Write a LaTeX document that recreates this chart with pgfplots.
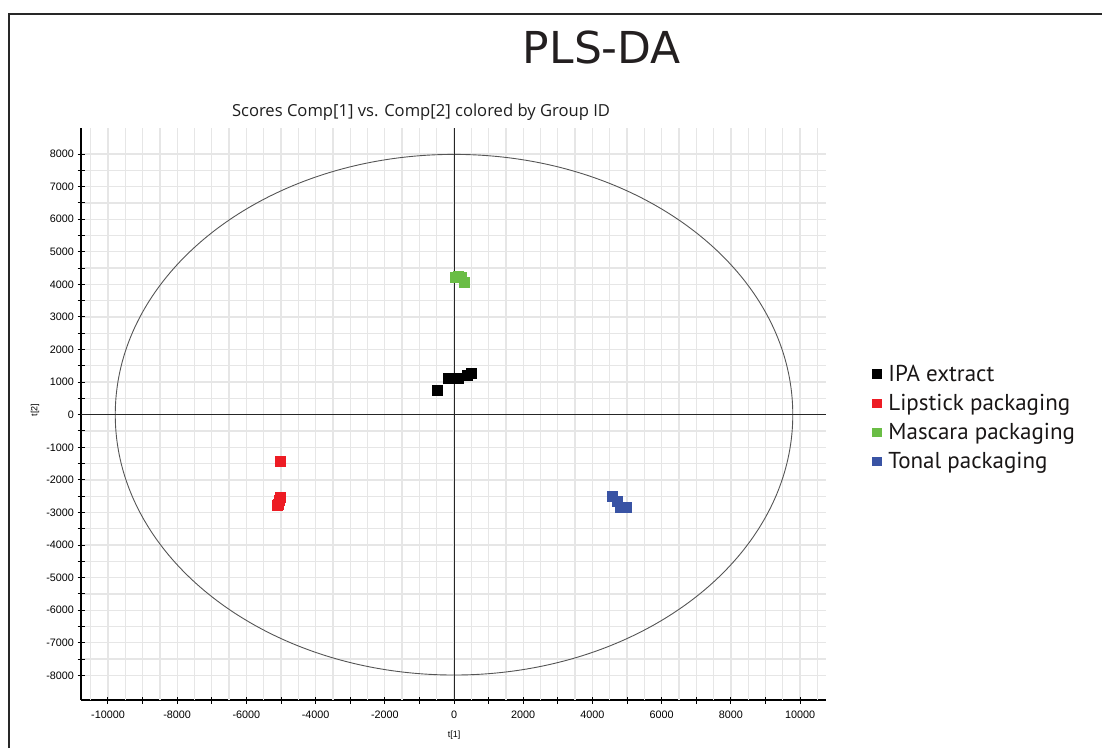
\documentclass[border=0pt]{standalone}
\usepackage{pgfplots}
\pgfplotsset{compat=1.18}
\usepackage{fontspec}
\setmainfont{Liberation Sans}
\newfontfamily\titlefont{DejaVu Sans}
\newfontfamily\subfont{Open Sans}
\newfontfamily\legfont{PT Sans}
\definecolor{cred}{RGB}{237,28,36}
\definecolor{cgreen}{RGB}{106,189,69}
\definecolor{cblue}{RGB}{57,83,164}
\definecolor{gridc}{RGB}{230,230,230}
\definecolor{ellc}{RGB}{85,85,85}
\begin{document}
\begin{tikzpicture}[x=1pt,y=1pt]
\useasboundingbox (0,0) rectangle (1102,748);
\draw[line width=1.3pt, color={rgb,255:red,40;green,40;blue,40}] (9,0) -- (9,734) -- (1102,734);
\node[font={\titlefont\fontsize{44}{50}\selectfont}, text={rgb,255:red,35;green,31;blue,32}] at (602,701) {PLS-DA};
\node[font={\subfont\fontsize{16.6}{19}\selectfont}, text={rgb,255:red,30;green,30;blue,30}] at (421,636) {Scores Comp[1] vs. Comp[2] colored by Group ID};
\node[font=\fontsize{9}{10}\selectfont] at (454,13) {t[1]};
\node[font=\fontsize{9}{10}\selectfont, rotate=90] at (35,338) {t[2]};
\begin{axis}[
  at={(81pt,48pt)}, anchor=south west,
  scale only axis, width=745pt, height=572pt,
  xmin=-10780, xmax=10750, ymin=-8757, ymax=8800,
  scaled ticks=false,
  axis x line*=bottom, axis y line*=left,
  axis line style={black, line width=1.2pt, -},
  xtick={-10000,-9000,...,10000},
  xticklabels={-10000,,-8000,,-6000,,-4000,,-2000,,0,,2000,,4000,,6000,,8000,,10000},
  extra x ticks={-10500,-9500,...,10500},
  extra x tick labels={},
  extra x tick style={grid=major, major tick length=0pt, scaled ticks=false},
  ytick={-8000,-7000,...,8000},
  yticklabels={-8000,-7000,-6000,-5000,-4000,-3000,-2000,-1000,0,1000,2000,3000,4000,5000,6000,7000,8000},
  minor y tick num=1,
  tick align=center,
  major tick length=7pt,
  minor tick length=7pt,
  every tick/.style={black, line width=1pt},
  every minor tick/.style={black, line width=1pt},
  grid=both,
  major grid style={gridc, line width=1.3pt},
  minor grid style={gridc, line width=1.3pt},
  ticklabel style={font=\fontsize{10.8}{12}\selectfont},
  xticklabel style={yshift=-4pt},
  clip=false,
  legend cell align=left,
  legend style={at={(1.058,0.593)}, anchor=north west, draw=none, fill=none,
    font={\legfont\fontsize{23}{27}\selectfont}, row sep=7.3pt,
    text={rgb,255:red,25;green,22;blue,22}},
  legend image code/.code={\fill (0pt,-4.3pt) rectangle (8.6pt,4.3pt);},
]
\draw[ellc, line width=0.9pt] (axis cs:0,0) ellipse [x radius=9790, y radius=7990];
\addplot[black!85, line width=1pt, forget plot] coordinates {(0,-8757) (0,8800)};
\addplot[black!85, line width=1pt, forget plot] coordinates {(-10780,0) (10750,0)};
\addplot[only marks, mark=square*, mark size=5pt, black, mark options={draw=none, fill=black}] coordinates {
(-483,737) (-165,1117) (107,1117) (367,1218) (483,1271)};
\addlegendentry{\hspace{5pt}IPA extract}
\addplot[only marks, mark=square*, mark size=5pt, cred, mark options={draw=none, fill=cred}] coordinates {
(-5029,-1421) (-5030,-2520) (-5060,-2630) (-5090,-2740) (-5110,-2790)};
\addlegendentry{\hspace{5pt}Lipstick packaging}
\addplot[only marks, mark=square*, mark size=5pt, cgreen, mark options={draw=none, fill=cgreen}] coordinates {
(40,4230) (130,4250) (220,4230) (298,4064)};
\addlegendentry{\hspace{5pt}Mascara packaging}
\addplot[only marks, mark=square*, mark size=5pt, cblue, mark options={draw=none, fill=cblue}] coordinates {
(4576,-2495) (4702,-2649) (4798,-2843) (4962,-2843)};
\addlegendentry{\hspace{5pt}Tonal packaging}
\end{axis}
\end{tikzpicture}
\end{document}
